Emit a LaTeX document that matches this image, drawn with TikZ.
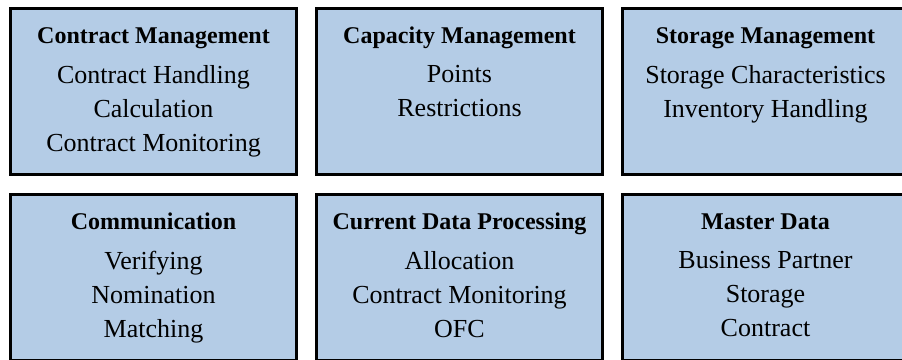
\documentclass[tikz,border=0pt]{standalone}
\usepackage{fontspec}
\setmainfont{Liberation Serif}
\usetikzlibrary{positioning}
\definecolor{boxblue}{RGB}{180,204,230}

\begin{document}
\begin{tikzpicture} [node distance=17pt,line width=3pt,
    area/.style={rectangle,draw,fill=boxblue,minimum width=286pt,minimum height=166pt,inner sep=0pt},
    head/.style={anchor=base,inner sep=0pt,font=\fontsize{24}{28}\selectfont\bfseries},
    items/.style={anchor=north,inner sep=0pt,align=center,font=\fontsize{26}{34}\selectfont,
      execute at begin node=\strut}]
  \useasboundingbox (0pt,0pt) rectangle (902pt,-359pt);
  \clip (0pt,0pt) rectangle (902pt,-359pt);

  \node[area] (cm) at (153.5pt,-91.5pt) {};
  \node[area] (cap) [right=of cm] {};
  \node[area] (stor) [right=of cap] {};
  \node[area] (com) [below=of cm] {};
  \node[area] (cdp) [right=of com] {};
  \node[area] (md) [right=of cdp] {};

  % top row
  \node[head] (cm-h) at ([yshift=-36.3pt]cm.north) {Contract Management};
  \node[items] (cm-l) at ([yshift=-56.5pt]cm.north) {Contract Handling\\Calculation\\Contract Monitoring};
  \node[head] (cap-h) at ([yshift=-36.3pt]cap.north) {Capacity Management};
  \node[items] (cap-l) at ([yshift=-56.5pt]cap.north) {Points\\Restrictions};
  \node[head] (stor-h) at ([yshift=-36.3pt]stor.north) {Storage Management};
  \node[items] (stor-l) at ([yshift=-56.5pt]stor.north) {Storage Characteristics\\Inventory Handling};

  % bottom row
  \node[head] (com-h) at ([yshift=-36.3pt]com.north) {Communication};
  \node[items] (com-l) at ([yshift=-56.5pt]com.north) {Verifying\\Nomination\\Matching};
  \node[head] (cdp-h) at ([yshift=-36.3pt]cdp.north) {Current Data Processing};
  \node[items] (cdp-l) at ([yshift=-56.5pt]cdp.north) {Allocation\\Contract Monitoring\\OFC};
  \node[head] (md-h) at ([yshift=-36.3pt]md.north) {Master Data};
  \node[items] (md-l) at ([yshift=-56.5pt]md.north) {Business Partner\\Storage\\Contract};
\end{tikzpicture}
\end{document}
